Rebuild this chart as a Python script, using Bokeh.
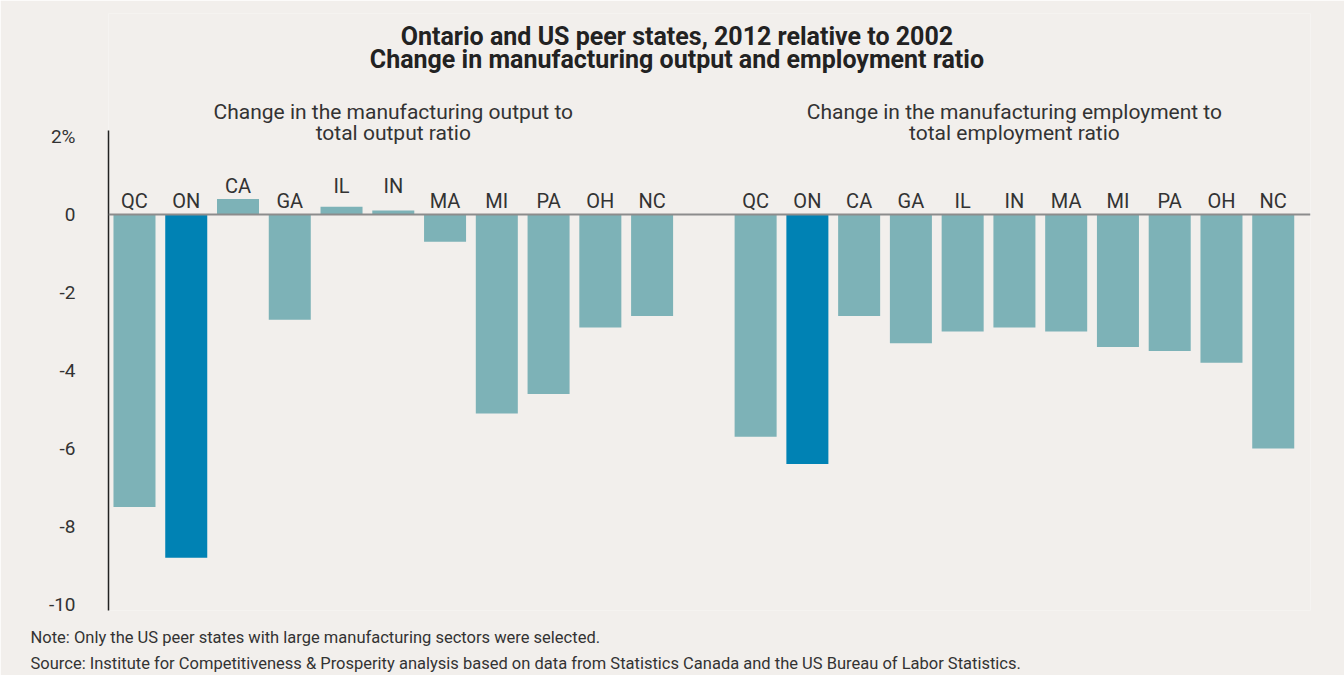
import numpy as np
from bokeh.plotting import figure
from bokeh.models import ColumnDataSource, Span, Label, FixedTicker, Title
from bokeh.core.properties import value
from bokeh.embed import file_html
from bokeh.resources import INLINE

states = ["QC", "ON", "CA", "GA", "IL", "IN", "MA", "MI", "PA", "OH", "NC"]
output_change = [-7.5, -8.8, 0.4, -2.7, 0.2, 0.1, -0.7, -5.1, -4.6, -2.9, -2.6]
employment_change = [-5.7, -6.4, -2.6, -3.3, -3.0, -2.9, -3.0, -3.4, -3.5, -3.8, -6.0]
y_ticks = [-10, -8, -6, -4, -2, 0, 2]
y_tick_labels = ["-10", "-8", "-6", "-4", "-2", "0", "2%"]
highlight = "ON"

title_lines = ["Ontario and US peer states, 2012 relative to 2002",
               "Change in manufacturing output and employment ratio"]
panel_titles = [["Change in the manufacturing output to", "total output ratio"],
                ["Change in the manufacturing employment to", "total employment ratio"]]
notes = ["Note: Only the US peer states with large manufacturing sectors were selected.",
         "Source: Institute for Competitiveness & Prosperity analysis based on data from Statistics Canada and the US Bureau of Labor Statistics."]

BG = "#f2efec"
TEAL = "#7db2b7"
BLUE = "#0082b4"
TXT = "#333333"
FONT = "Roboto"

n = len(states)
idx = np.arange(n)
xs = np.concatenate([idx, idx + n + 1])
vals = np.array(output_change + employment_change)
labels = states + states
colors = [BLUE if s == highlight else TEAL for s in labels]
label_off = np.where(vals > 0, -29, -14)

src = ColumnDataSource(dict(x=xs, top=vals, label=labels, color=colors,
                            ly=np.zeros(len(vals)), loff=label_off))

X0, X1 = -0.502, 22.72
Y0, YAX, Y1 = -10.154, 2.15, 5.154
p = figure(width=1344, height=675, output_backend="svg", toolbar_location=None,
           x_range=(X0, X1), y_range=(Y0, Y1),
           min_border_left=108, min_border_right=34, min_border_top=13, min_border_bottom=65,
           background_fill_color=BG, border_fill_color=BG)
p.outline_line_color = None
p.grid.visible = False
p.xaxis.visible = False

p.vbar(x="x", top="top", bottom=0, width=0.8116, color="color", line_color=None, source=src)
p.add_layout(Span(location=0, dimension="width", line_color="#8c8c8c", line_width=2))
p.text(x="x", y="ly", text="label", y_offset="loff", source=src,
       text_align="center", text_baseline="alphabetic",
       text_font=value(FONT), text_font_size="20px", text_color=TXT)

ax = p.yaxis[0]
ax.ticker = FixedTicker(ticks=y_ticks)
ax.bounds = (Y0, YAX)
ax.major_label_overrides = {t: l for t, l in zip(y_ticks, y_tick_labels)}
ax.major_tick_line_color = None
ax.minor_tick_line_color = None
ax.axis_line_color = "#222222"
ax.axis_line_width = 1.5
ax.major_label_standoff = 27
ax.major_label_text_font = FONT
ax.major_label_text_font_size = "19px"
ax.major_label_text_color = TXT

# main title (inside the top of the frame)
for t, yy in zip(title_lines, [4.564, 3.974]):
    p.add_layout(Label(x=10.48, y=yy, text=t, text_align="center", text_baseline="middle",
                       text_font=FONT, text_font_size="25px", text_font_style="bold",
                       text_color="#222222"))

# panel titles
for g, lines in enumerate(panel_titles):
    cx = (n - 1) / 2 + g * (n + 1)
    for t, yy in zip(lines, [2.64, 2.08]):
        p.add_layout(Label(x=cx, y=yy, text=t, text_align="center", text_baseline="middle",
                           text_font=FONT, text_font_size="21px", text_color=TXT))

# notes below
p.title.visible = False
for i, t in enumerate(notes):
    p.add_layout(Title(text=t, align="left", offset=-78, standoff=30 if i == 0 else -20,
                       text_font=FONT, text_font_size="16.5px", text_font_style="normal",
                       text_color=TXT), "below")

open("out.html", "w").write(file_html(p, INLINE))
